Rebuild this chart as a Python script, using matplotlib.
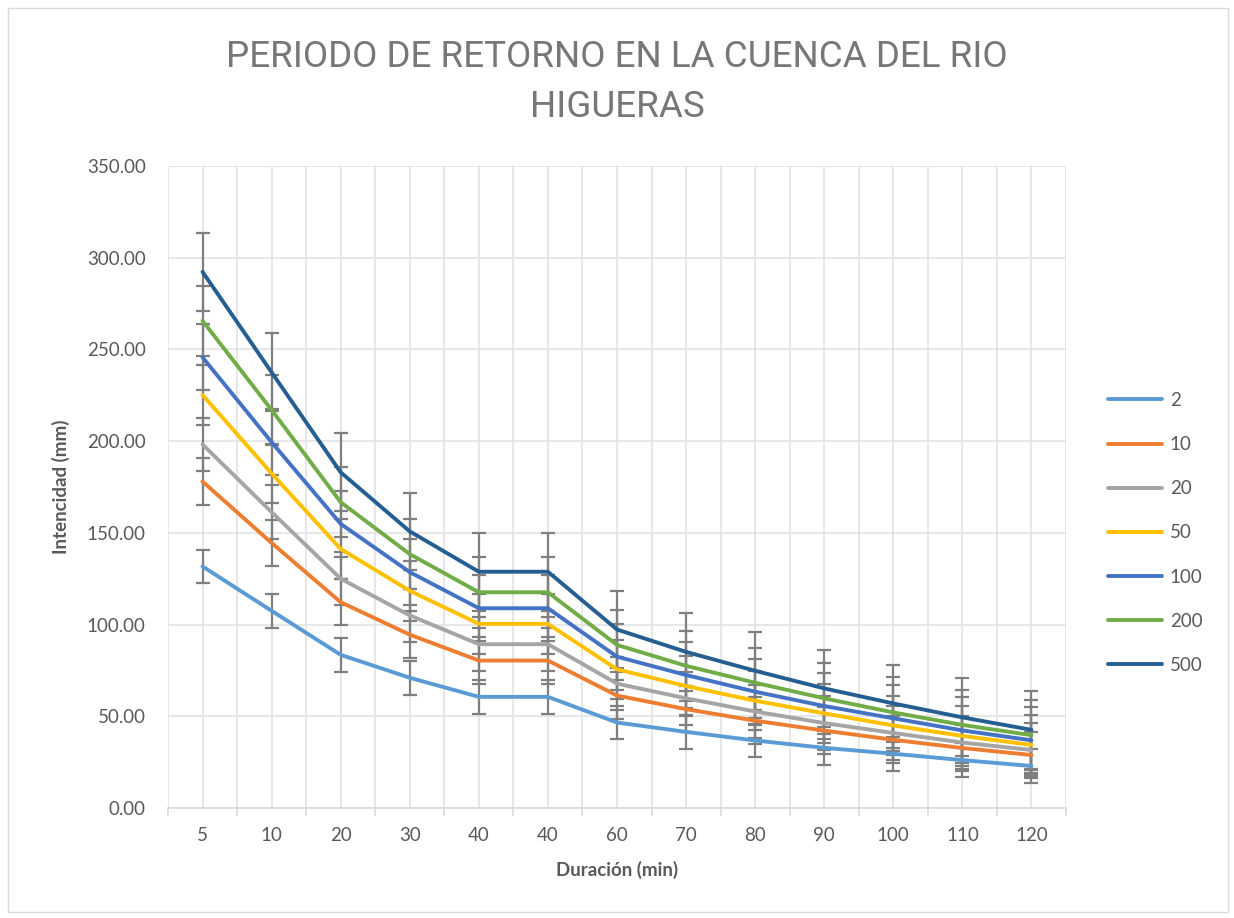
import numpy as np
import matplotlib
matplotlib.use('Agg')
import matplotlib.pyplot as plt
from matplotlib.patches import Rectangle

plt.rcParams['font.family'] = ['Lato', 'DejaVu Sans']

# Datos del grafico
duraciones = ['5', '10', '20', '30', '40', '40', '60', '70', '80', '90', '100', '110', '120']
periodos = ['2', '10', '20', '50', '100', '200', '500']

i_2 = [131.7, 107.5, 83.5, 71.0, 60.6, 60.6, 46.6, 41.5, 36.8, 32.8, 29.6, 26.1, 22.9]
i_10 = [178.0, 144.5, 112.2, 94.5, 80.4, 80.4, 61.3, 53.9, 47.6, 42.2, 37.2, 32.7, 28.9]
i_20 = [198.2, 161.3, 125.0, 105.0, 89.3, 89.3, 67.8, 59.8, 52.6, 46.3, 40.9, 35.7, 31.6]
i_50 = [225.2, 182.4, 141.2, 118.4, 100.4, 100.4, 75.6, 66.5, 58.5, 51.6, 45.0, 39.3, 34.4]
i_100 = [245.7, 199.4, 154.9, 128.6, 108.9, 108.9, 82.5, 72.5, 63.4, 55.6, 48.9, 42.3, 36.9]
i_200 = [265.6, 217.0, 166.7, 138.4, 117.6, 117.6, 88.9, 77.5, 68.3, 59.8, 52.1, 45.3, 39.7]
i_500 = [292.3, 237.5, 183.0, 150.8, 128.8, 128.8, 97.3, 85.1, 74.8, 65.2, 57.0, 49.4, 42.6]

# error estandar por serie (igual para todos los puntos de la serie)
errores = [9.2, 12.7, 14.6, 16.2, 18.0, 19.2, 21.2]

colores = ['#5B9BD5', '#ED7D31', '#A5A5A5', '#FFC000', '#4472C4', '#70AD47', '#255E91']
series = [i_2, i_10, i_20, i_50, i_100, i_200, i_500]

gris_texto = '#595959'

fig = plt.figure(figsize=(12.34, 9.18), dpi=100)
ax = fig.add_axes([168 / 1234, 110 / 918, 898 / 1234, 642 / 918])

# borde exterior del grafico
fig.patches.append(Rectangle((8 / 1234, 6 / 918), 1220 / 1234, 904 / 918, transform=fig.transFigure,
                             fill=False, edgecolor='#d9d9d9', linewidth=1.0))

x = np.arange(len(duraciones))

for valores, err in zip(series, errores):
    ax.errorbar(x, valores, yerr=err, fmt='none', ecolor='#7f7f7f', elinewidth=1.6,
                capsize=5, capthick=1.6, zorder=2)

for valores, color, nombre in zip(series, colores, periodos):
    ax.plot(x, valores, color=color, linewidth=2.8, label=nombre, zorder=3,
            solid_capstyle='round', solid_joinstyle='round')

ax.set_xlim(-0.5, len(duraciones) - 0.5)
ax.set_ylim(0, 350)
ax.set_yticks(np.arange(0, 351, 50))
ax.set_yticklabels([f'{v:.2f}' for v in np.arange(0, 351, 50)])
ax.set_xticks(x)
ax.set_xticklabels(duraciones)
ax.set_xticks(np.arange(-0.5, len(duraciones)), minor=True)

ax.grid(True, which='both', axis='x', color='#e3e3e3', linewidth=1.2, zorder=0)
ax.grid(True, which='major', axis='y', color='#e3e3e3', linewidth=1.2, zorder=0)
ax.set_axisbelow(True)

for lado in ['top', 'right', 'left']:
    ax.spines[lado].set_visible(False)
ax.spines['bottom'].set_color('#d9d9d9')
ax.spines['bottom'].set_linewidth(1.2)

ax.tick_params(axis='x', which='major', length=0, pad=14, labelsize=13.5, labelcolor=gris_texto)
ax.tick_params(axis='x', which='minor', length=6, width=1.2, color='#d9d9d9')
ax.tick_params(axis='y', length=0, pad=16, labelsize=13.5, labelcolor=gris_texto)

ax.set_xlabel('Duración (min)', fontsize=13.5, fontweight='bold', color=gris_texto, labelpad=12)
ax.set_ylabel('Intencidad (mm)', fontsize=13.5, fontweight='bold', color=gris_texto, labelpad=12)

titulo = dict(ha='center', va='center', fontsize=26.5, fontweight='normal', color='#777777',
              family=['Roboto', 'DejaVu Sans'])
fig.text(0.5, 1 - 57 / 918, 'PERIODO DE RETORNO EN LA CUENCA DEL RIO', **titulo)
fig.text(0.5, 1 - 107 / 918, 'HIGUERAS', **titulo)

fig.legend(loc='upper left', bbox_to_anchor=(1091 / 1234, 1 - 375 / 918), frameon=False,
           fontsize=13.5, handlelength=2.9, labelspacing=1.45, labelcolor=gris_texto,
           handletextpad=0.4)

fig.savefig('out.png', dpi=100)
